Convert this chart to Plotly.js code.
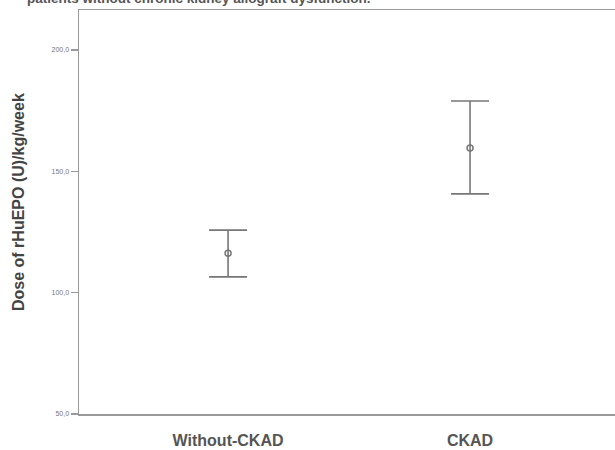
<!DOCTYPE html>
<html>
<head>
<meta charset="utf-8">
<script src="https://cdn.plot.ly/plotly-3.0.1.min.js"></script>
<style>html,body{margin:0;padding:0;background:#fff;}#chart{width:615px;height:450px;}</style>
</head>
<body>
<div id="chart"></div>
<script>
const groups = ["Without-CKAD", "CKAD"];
const meanDose = [116.3, 159.6];
const upperCI = [125.8, 179.0];
const lowerCI = [106.5, 140.7];
const yTicks = [50, 100, 150, 200];
const yTickText = ["50,0", "100,0", "150,0", "200,0"];
const yTitle = "Dose of rHuEPO (U)/kg/week";
const topText = "patients without chronic kidney allograft dysfunction.";

const errPlus = meanDose.map((m, i) => upperCI[i] - m);
const errMinus = meanDose.map((m, i) => m - lowerCI[i]);

const trace = {
  type: "scatter",
  mode: "markers",
  x: groups,
  y: meanDose,
  marker: {symbol: "circle-open", size: 6, color: "#777", line: {width: 1.5, color: "#777"}},
  error_y: {type: "data", symmetric: false, array: errPlus, arrayminus: errMinus,
            color: "#777", thickness: 1.6, width: 19},
  hoverinfo: "skip",
  showlegend: false
};

const layout = {
  width: 615, height: 450,
  margin: {l: 79, r: 0, t: 10, b: 36},
  paper_bgcolor: "#fff", plot_bgcolor: "#fff",
  font: {family: "Liberation Sans, Arial, sans-serif", color: "#444"},
  xaxis: {
    type: "category",
    range: [-0.616, 1.599],
    showline: true, mirror: true, linecolor: "#999", linewidth: 1.5,
    showgrid: false, zeroline: false, ticks: "",
    ticklabelstandoff: 11,
    tickfont: {size: 16, color: "#555", family: "Liberation Sans, Arial, sans-serif", weight: "bold"},
    fixedrange: true
  },
  yaxis: {
    range: [50, 216.5],
    tickvals: yTicks, ticktext: yTickText,
    showline: true, linecolor: "#999", linewidth: 1.5,
    ticks: "outside", ticklen: 7, tickcolor: "#999", tickwidth: 1.2,
    tickfont: {size: 7, color: "#777"},
    showgrid: false, zeroline: false,
    fixedrange: true
  },
  annotations: [{
    text: "<b>" + topText + "</b>",
    xref: "paper", yref: "paper",
    x: (25 - 79) / 536, y: 1 + 11 / 404,
    xanchor: "left", yanchor: "middle",
    showarrow: false,
    font: {size: 13.5, color: "#555"}
  }, {
    text: "<b>" + yTitle + "</b>",
    xref: "paper", yref: "paper",
    x: (18 - 79) / 536, y: (414 - 202) / 404,
    xanchor: "center", yanchor: "middle",
    textangle: -90,
    showarrow: false,
    font: {size: 16, color: "#444"}
  }]
};

Plotly.newPlot("chart", [trace], layout, {displayModeBar: false, staticPlot: true});
</script>
</body>
</html>
